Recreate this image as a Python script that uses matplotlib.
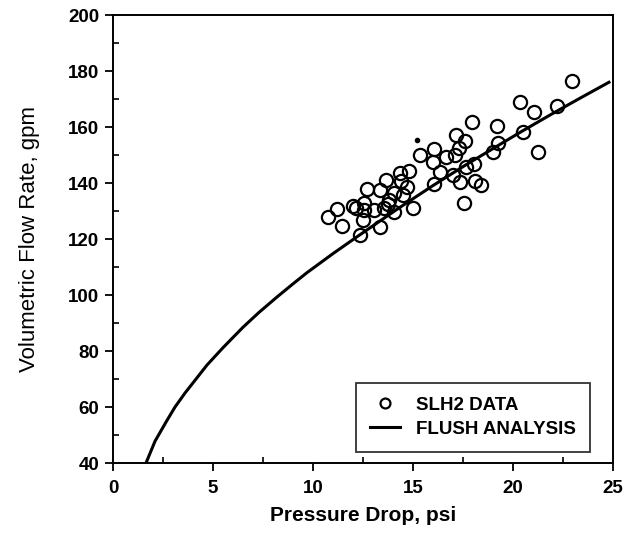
import matplotlib
matplotlib.use("Agg")
import matplotlib.pyplot as plt
from matplotlib.ticker import MultipleLocator

plt.rcParams['font.family'] = ['Liberation Sans', 'DejaVu Sans']

# SLH2 test data (pressure drop psi, flow rate gpm)
data_dp = [22.95, 20.35, 22.2, 21.07, 17.97, 19.21, 20.52, 17.14, 17.59, 19.23,
           19.01, 21.24, 16.05, 15.33, 16.0, 16.67, 17.3, 17.1, 18.06, 17.67,
           16.33, 17.0, 17.37, 18.09, 18.39, 16.05, 17.54, 14.82, 14.37, 13.65,
           14.4, 14.7, 12.68, 13.37, 14.07, 14.49, 13.82, 13.73, 14.07, 15.0,
           11.22, 10.75, 12.14, 12.0, 12.53, 12.56, 13.07, 13.57, 12.48, 11.47,
           13.35, 12.36]
data_q = [176.4, 168.8, 167.6, 165.5, 161.7, 160.4, 158.3, 157.1, 155.1, 154.4,
          151.2, 151.0, 152.0, 150.0, 147.6, 149.4, 152.5, 150.0, 146.8, 145.6,
          144.0, 142.9, 140.5, 140.8, 139.3, 139.5, 132.7, 144.4, 143.5, 141.2,
          140.7, 138.6, 137.7, 137.5, 136.3, 135.7, 133.9, 132.5, 129.8, 131.0,
          130.7, 128.0, 131.2, 131.8, 132.7, 130.4, 130.4, 131.0, 126.8, 124.8,
          124.4, 121.4]

# stray dot
dot_dp = [15.2]
dot_q = [155.4]

# FLUSH analysis curve
flush_dp = [1.65, 2.1, 2.68, 3.1, 3.6, 4.7, 5.5, 6.5, 7.3, 8.2, 9.0, 9.7,
            11.0, 12.3, 14.3, 16.0, 17.6, 20.4, 22.0, 23.4, 24.8]
flush_q = [40, 47.8, 55, 60, 65, 75, 81.2, 88.5, 93.8, 99.3, 104.0, 108,
           114.8, 121.3, 131.1, 139.1, 146.3, 158.3, 164.9, 170.5, 176]

fig = plt.figure(figsize=(6.28, 5.39), dpi=100)
ax = fig.add_axes([0.18, 0.141, 0.796, 0.831])

ax.plot(flush_dp, flush_q, color='black', lw=2.2, label='FLUSH ANALYSIS',
        zorder=3, solid_joinstyle='round')
ax.plot(data_dp, data_q, linestyle='none', marker='o', markersize=9.5,
        markerfacecolor='none', markeredgecolor='black', markeredgewidth=1.6,
        label='SLH2 DATA', zorder=2)
ax.plot(dot_dp, dot_q, linestyle='none', marker='o', markersize=3,
        color='black', zorder=2)

ax.set_xlim(0, 25)
ax.set_ylim(40, 200)
ax.xaxis.set_major_locator(MultipleLocator(5))
ax.xaxis.set_minor_locator(MultipleLocator(2.5))
ax.yaxis.set_major_locator(MultipleLocator(20))
ax.yaxis.set_minor_locator(MultipleLocator(10))
ax.tick_params(which='major', direction='out', length=6, width=1.3,
               labelsize=13.5, pad=4)
ax.tick_params(axis='x', which='major', pad=6)
ax.tick_params(which='minor', direction='in', length=4, width=1.2)
for lab in ax.get_xticklabels() + ax.get_yticklabels():
    lab.set_fontweight('bold')
for s in ax.spines.values():
    s.set_linewidth(1.4)

ax.set_xlabel('Pressure Drop, psi', fontsize=15, fontweight='bold', labelpad=7)
ax.set_ylabel('Volumetric Flow Rate, gpm', fontsize=16, labelpad=20)

handles, labels = ax.get_legend_handles_labels()
hmap = dict(zip(labels, handles))
leg = ax.legend([hmap['SLH2 DATA'], hmap['FLUSH ANALYSIS']],
                ['SLH2 DATA', 'FLUSH ANALYSIS'],
                loc='lower right', bbox_to_anchor=(0.955, 0.025),
                fancybox=False, frameon=True, edgecolor='black',
                prop={'size': 13.5, 'weight': 'bold'}, handlelength=1.6,
                borderpad=0.75, labelspacing=0.35, handletextpad=0.9,
                markerscale=0.75, borderaxespad=0)
leg.get_frame().set_linewidth(1.3)

fig.savefig('out.png', dpi=100)
